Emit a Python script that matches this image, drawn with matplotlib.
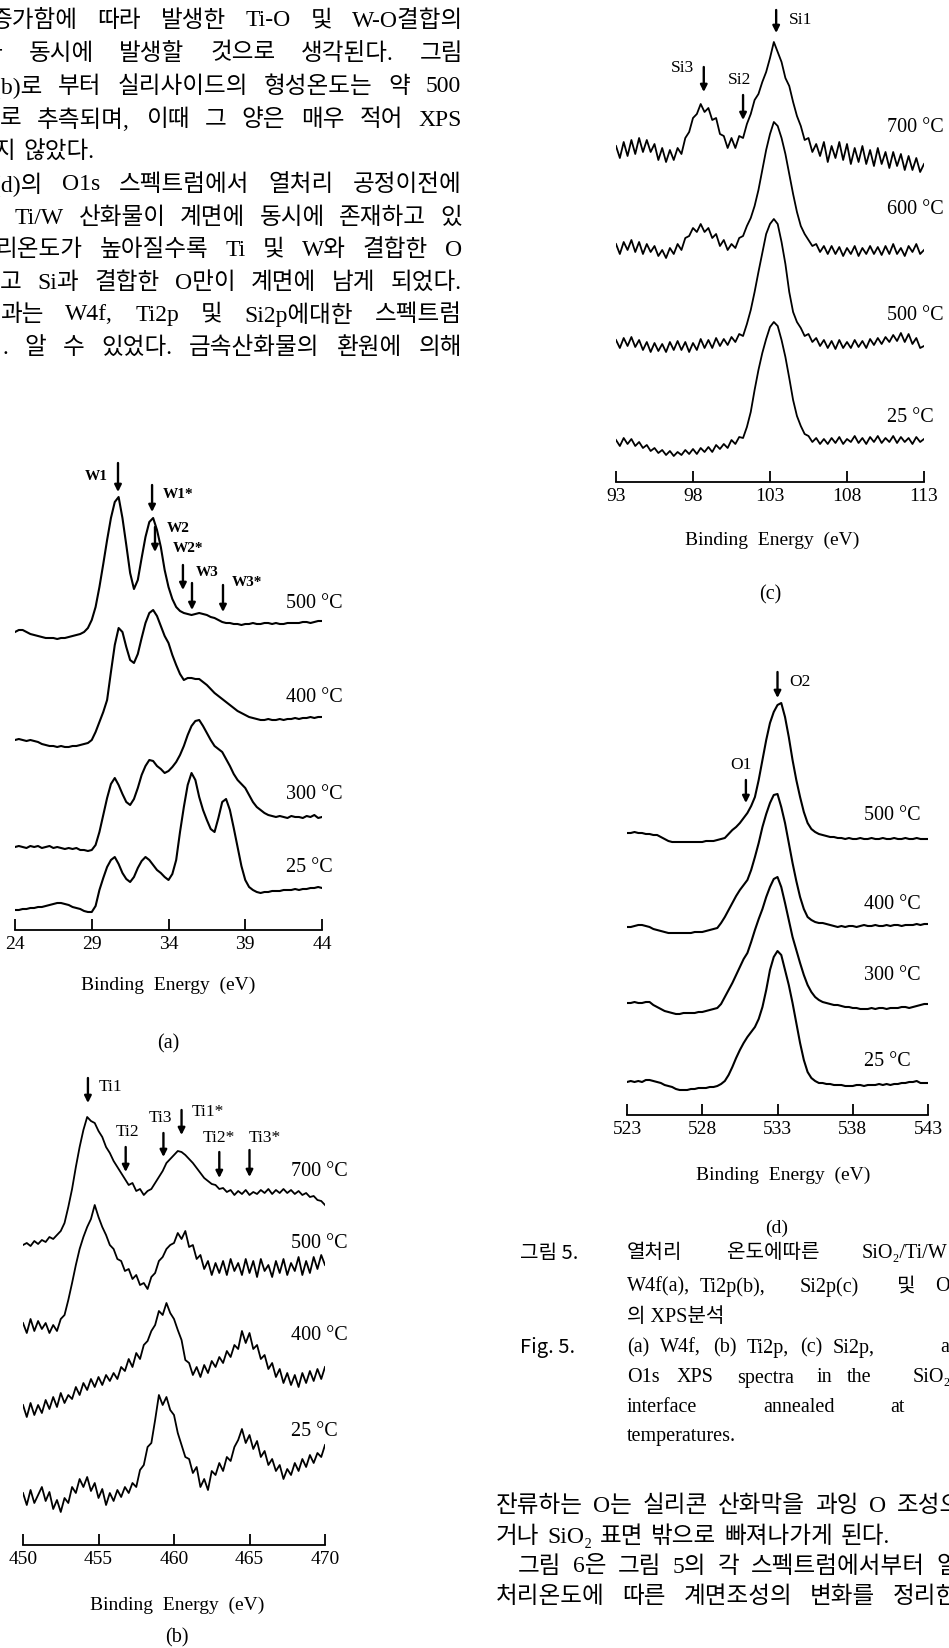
import numpy as np
import matplotlib
matplotlib.use('Agg')
import matplotlib.pyplot as plt

W, H = 949, 1648
plt.rcParams['font.family'] = ['Liberation Serif', 'Noto Sans CJK KR', 'DejaVu Sans']
SANS = ['Noto Sans CJK KR', 'DejaVu Sans']

# ---------------- data (heights in px above each panel's axis line) ----------------
# (a) W4f
a_energy = np.linspace(24, 44, 81)
a_25 = [20, 20, 21, 21, 22, 22, 23, 23, 24, 25, 26, 27, 27, 26, 25, 23, 22, 21, 19, 18,
        18, 24, 40, 52, 63, 70, 73, 66, 57, 51, 48, 53, 62, 69, 73, 70, 65, 60, 57, 53,
        50, 56, 70, 98, 123, 145, 157, 150, 133, 120, 110, 101, 98, 112, 128, 131, 120, 102, 83, 64,
        50, 43, 40, 38, 37, 38, 38, 39, 39, 39, 40, 40, 40, 41, 40, 41, 41, 42, 42, 43, 42]
a_300 = [83, 84, 83, 82, 84, 83, 84, 82, 83, 84, 82, 83, 82, 81, 82, 81, 82, 80, 80, 79,
         80, 85, 98, 115, 132, 146, 152, 145, 136, 128, 125, 131, 142, 155, 164, 170, 169, 164, 161, 157,
         159, 163, 168, 175, 184, 195, 204, 209, 210, 204, 197, 190, 184, 181, 178, 171, 164, 156, 150, 146,
         142, 135, 128, 123, 120, 117, 115, 114, 113, 114, 113, 112, 114, 113, 113, 112, 114, 113, 115, 112, 113]
a_400 = [190, 191, 190, 189, 190, 189, 188, 186, 185, 184, 184, 183, 184, 183, 183, 184, 184, 185, 186, 187,
         190, 198, 208, 218, 230, 258, 285, 302, 298, 283, 270, 267, 276, 292, 307, 317, 320, 314, 304, 294,
         287, 275, 265, 256, 250, 252, 252, 251, 251, 248, 245, 241, 237, 234, 231, 228, 225, 222, 219, 217,
         215, 213, 212, 211, 210, 210, 211, 210, 210, 211, 210, 211, 211, 212, 211, 212, 212, 213, 212, 213, 213]
a_500 = [298, 300, 300, 298, 296, 295, 294, 293, 292, 292, 292, 291, 292, 292, 293, 294, 295, 296, 298, 302,
         310, 323, 343, 366, 390, 412, 428, 433, 412, 385, 357, 341, 350, 372, 393, 408, 412, 400, 383, 360,
         343, 331, 323, 319, 317, 316, 315, 316, 317, 316, 315, 313, 312, 310, 308, 307, 307, 306, 306, 305,
         306, 306, 307, 306, 306, 307, 307, 306, 307, 306, 306, 307, 307, 307, 307, 308, 308, 307, 308, 309, 309]

# (b) Ti2p
b_energy = np.linspace(450, 470, 81)
b_25 = [52, 40, 55, 42, 50, 58, 44, 53, 36, 45, 33, 47, 42, 58, 52, 66, 58, 68, 54, 62,
        47, 56, 40, 52, 44, 55, 48, 58, 52, 62, 58, 75, 80, 98, 102, 125, 150, 140, 148, 135,
        130, 112, 100, 88, 86, 72, 78, 58, 66, 55, 74, 70, 82, 74, 88, 84, 98, 105, 116, 102,
        110, 96, 104, 88, 94, 80, 86, 74, 80, 66, 76, 70, 82, 74, 86, 78, 90, 82, 92, 88, 100]
b_400 = [140, 128, 142, 130, 140, 132, 145, 136, 148, 138, 152, 142, 150, 146, 158, 150, 162, 155, 166, 158,
         168, 160, 170, 164, 172, 166, 178, 174, 186, 178, 192, 186, 200, 204, 214, 220, 234, 230, 242, 232,
         226, 215, 205, 185, 182, 170, 178, 168, 180, 172, 184, 178, 188, 182, 194, 188, 200, 196, 214, 202,
         212, 196, 200, 186, 190, 176, 182, 168, 176, 162, 172, 160, 170, 158, 172, 162, 174, 164, 176, 166, 178]
b_500 = [222, 212, 226, 214, 224, 216, 222, 212, 220, 214, 226, 230, 245, 262, 280, 296, 308, 318, 326, 340,
         328, 318, 310, 300, 296, 286, 284, 274, 276, 266, 270, 260, 262, 256, 268, 272, 284, 288, 296, 300,
         302, 312, 306, 314, 298, 300, 286, 290, 276, 284, 270, 282, 272, 284, 270, 286, 274, 282, 270, 286,
         272, 284, 268, 286, 274, 280, 268, 284, 272, 286, 270, 282, 274, 288, 270, 284, 272, 288, 276, 290, 280]
b_700 = [300, 302, 299, 304, 301, 305, 303, 308, 306, 310, 314, 322, 338, 356, 378, 398, 415, 428, 424, 422,
         414, 408, 398, 392, 384, 378, 372, 366, 360, 362, 354, 356, 350, 354, 356, 362, 368, 374, 382, 386,
         390, 394, 393, 390, 386, 382, 377, 372, 367, 364, 361, 360, 356, 357, 353, 355, 350, 354, 351, 355,
         350, 353, 351, 355, 352, 356, 351, 355, 352, 356, 352, 355, 351, 354, 350, 352, 348, 349, 345, 344, 340]

# (c) Si2p
c_energy = np.linspace(93, 113, 81)
c_25 = [42, 36, 44, 38, 43, 36, 40, 34, 37, 31, 34, 29, 32, 27, 31, 26, 30, 27, 32, 28,
        33, 28, 34, 30, 35, 30, 37, 33, 38, 34, 42, 38, 45, 44, 55, 70, 92, 112, 129, 143,
        155, 160, 156, 142, 125, 104, 82, 66, 56, 48, 46, 40, 44, 38, 43, 38, 44, 39, 45, 38,
        43, 40, 46, 39, 44, 38, 45, 40, 46, 39, 44, 40, 46, 39, 45, 40, 44, 38, 45, 40, 43]
c_500 = [142, 134, 144, 136, 145, 135, 142, 132, 140, 130, 139, 131, 138, 130, 140, 132, 141, 132, 140, 130,
         139, 132, 143, 134, 142, 134, 144, 136, 143, 137, 145, 140, 148, 146, 158, 172, 190, 210, 229, 248,
         258, 263, 258, 240, 218, 190, 170, 160, 154, 146, 148, 140, 144, 136, 142, 134, 141, 133, 142, 134,
         140, 134, 142, 135, 141, 134, 143, 137, 144, 138, 145, 140, 147, 141, 149, 140, 148, 138, 144, 134, 136]
c_600 = [238, 228, 240, 232, 242, 230, 240, 228, 238, 230, 236, 226, 232, 224, 234, 228, 238, 232, 244, 246,
         254, 250, 258, 250, 254, 244, 248, 236, 242, 232, 238, 234, 244, 246, 256, 264, 276, 292, 312, 332,
         348, 360, 356, 344, 328, 308, 288, 270, 256, 248, 242, 236, 238, 230, 236, 228, 236, 228, 235, 226,
         234, 228, 236, 226, 234, 228, 236, 228, 235, 227, 236, 228, 238, 228, 234, 226, 236, 230, 238, 228, 232]
c_700 = [336, 324, 340, 326, 342, 328, 344, 330, 342, 330, 338, 322, 334, 320, 332, 322, 334, 328, 344, 350,
         364, 368, 378, 370, 374, 362, 364, 348, 346, 334, 344, 334, 346, 344, 358, 368, 382, 388, 400, 410,
         424, 440, 430, 420, 404, 396, 380, 366, 356, 342, 344, 330, 338, 326, 340, 320, 336, 324, 340, 322,
         338, 318, 334, 320, 336, 318, 332, 316, 334, 318, 330, 314, 330, 316, 328, 312, 326, 312, 324, 310, 318]

# (d) O1s
d_energy = np.linspace(523, 543, 81)
d_25 = [33, 34, 33, 34, 33, 35, 35, 34, 33, 32, 30, 29, 28, 26, 25, 25, 25, 26, 26, 27,
        27, 27, 28, 28, 29, 31, 34, 40, 48, 57, 65, 72, 78, 83, 88, 96, 108, 125, 145, 158,
        164, 160, 145, 130, 112, 92, 72, 55, 43, 37, 34, 32, 32, 31, 31, 30, 30, 30, 29, 29,
        29, 30, 30, 29, 30, 30, 30, 31, 30, 31, 30, 31, 31, 32, 32, 33, 33, 34, 32, 32, 32]
d_300 = [112, 112, 113, 112, 112, 113, 113, 110, 108, 106, 104, 103, 102, 101, 101, 102, 102, 102, 102, 103,
         103, 104, 105, 106, 107, 111, 118, 125, 132, 140, 148, 156, 162, 173, 185, 196, 206, 218, 228, 236,
         238, 228, 212, 195, 178, 165, 152, 140, 130, 123, 118, 115, 113, 112, 111, 110, 110, 109, 108, 108,
         107, 107, 106, 106, 106, 107, 106, 107, 107, 106, 107, 107, 107, 108, 108, 107, 108, 109, 110, 111, 111]
d_400 = [188, 188, 189, 190, 190, 189, 188, 186, 185, 184, 183, 182, 182, 182, 182, 182, 182, 182, 183, 183,
         183, 184, 185, 186, 187, 192, 198, 205, 212, 219, 225, 230, 235, 245, 258, 272, 288, 301, 312, 320,
         321, 308, 292, 272, 252, 234, 218, 206, 198, 195, 193, 192, 192, 191, 190, 189, 188, 189, 188, 189,
         189, 188, 189, 190, 189, 189, 190, 189, 189, 190, 189, 190, 190, 189, 190, 190, 190, 191, 190, 191, 191]
d_500 = [282, 282, 283, 282, 282, 281, 281, 280, 280, 278, 276, 274, 273, 273, 273, 273, 273, 273, 273, 273,
         273, 274, 274, 274, 275, 276, 277, 281, 285, 288, 292, 297, 302, 309, 318, 335, 355, 375, 392, 403,
         410, 412, 398, 378, 355, 335, 318, 303, 292, 286, 283, 281, 280, 279, 278, 278, 277, 277, 276, 277,
         276, 276, 277, 276, 276, 277, 276, 276, 277, 276, 276, 277, 276, 276, 277, 276, 276, 277, 276, 276, 276]

# peak markers: (label, arrow energy, arrow top, arrow tip, text energy, text height, text align)
a_marks = [('W1', 30.71, 467, 438, 29.3, 453, 'center'),
           ('W1*', 32.93, 445, 418, 33.6, 435, 'left'),
           ('W2', 33.12, 403, 378, 33.9, 402, 'left'),
           ('W2*', 34.94, 365, 340, 34.3, 381, 'left'),
           ('W3', 35.53, 347, 320, 35.75, 358, 'left'),
           ('W3*', 37.55, 345, 318, 38.15, 347, 'left')]
b_marks = [('Ti1', 454.3, 467, 442, 455.0, 458, 'left'),
           ('Ti2', 456.8, 398, 373, 456.9, 413, 'center'),
           ('Ti3', 459.3, 412, 388, 459.1, 427, 'center'),
           ('Ti1*', 460.5, 435, 410, 461.2, 433, 'left'),
           ('Ti2*', 463.0, 393, 367, 463.0, 407, 'center'),
           ('Ti3*', 465.0, 395, 368, 466.0, 407, 'center')]
c_marks = [('Si1', 103.4, 472, 449, 104.2, 462, 'left'),
           ('Si3', 98.7, 415, 390, 97.35, 414, 'center'),
           ('Si2', 101.25, 387, 362, 101.05, 402, 'center')]
d_marks = [('O2', 533.0, 443, 417, 533.8, 433, 'left'),
           ('O1', 530.9, 335, 312, 530.55, 350, 'center')]

temps_a = ['500 °C', '400 °C', '300 °C', '25 °C']
temps_b = ['700 °C', '500 °C', '400 °C', '25 °C']
temps_c = ['700 °C', '600 °C', '500 °C', '25 °C']
temps_d = ['500 °C', '400 °C', '300 °C', '25 °C']

fig = plt.figure(figsize=(W / 100, H / 100), dpi=100)


def fx(x):
    return x / W


def fy(y):
    return 1 - y / H


def panel(x0, x1, base, top, lim, step):
    ax = fig.add_axes([fx(x0), fy(base), (x1 - x0) / W, (base - top) / H])
    ax.set_xlim(lim[0], lim[1])
    ax.set_ylim(0, base - top)
    for s in ['top', 'left', 'right']:
        ax.spines[s].set_visible(False)
    ax.spines['bottom'].set_linewidth(1.3)
    ax.set_yticks([])
    ax.set_xticks(np.arange(lim[0], lim[1] + 1, step))
    ax.tick_params(axis='x', direction='in', length=8, width=1.3, pad=4, labelsize=14)
    ax.patch.set_visible(False)
    return ax


def marks(ax, items, bold=False, size=12.5):
    for lab, xe, h0, h1, xt, ht, ha in items:
        ax.annotate('', xy=(xe, h1), xytext=(xe, h0), annotation_clip=False,
                    arrowprops=dict(arrowstyle='-|>', color='k', lw=1.7, mutation_scale=10,
                                    shrinkA=0, shrinkB=0))
        ax.text(xt, ht, lab, ha=ha, va='center', fontsize=size,
                fontweight='bold' if bold else 'normal', clip_on=False)


def ftext(x, y, s, size=14, ha='left', **kw):
    return fig.text(fx(x), fy(y), s, fontsize=size, ha=ha, va='center', **kw)


# ---------------- panel (a) ----------------
ax = panel(15, 322, 930, 455, (24, 44), 5)
for ys in [a_25, a_300, a_400, a_500]:
    ax.plot(a_energy, ys, color='k', lw=1.5)
marks(ax, a_marks, bold=True, size=11)
for t, y in zip(temps_a, [603, 697, 795, 867]):
    ftext(286, y, t, 14.5)
ftext(168, 985, 'Binding  Energy  (eV)', 14, ha='center')
ftext(168, 1044, '(a)', 14.5, ha='center')

# ---------------- panel (b) ----------------
ax = panel(23, 325, 1545, 1065, (450, 470), 5)
for ys in [b_25, b_400, b_500, b_700]:
    ax.plot(b_energy, ys, color='k', lw=1.3)
marks(ax, b_marks)
for t, y in zip(temps_b, [1172, 1243, 1336, 1432]):
    ftext(291, y, t, 14.5)
ftext(177, 1605, 'Binding  Energy  (eV)', 14, ha='center')
ftext(177, 1638, '(b)', 14.5, ha='center')

# ---------------- panel (c) ----------------
ax = panel(616, 924, 482, 0, (93, 113), 5)
for ys in [c_25, c_500, c_600, c_700]:
    ax.plot(c_energy, ys, color='k', lw=1.3)
marks(ax, c_marks)
for t, y in zip(temps_c, [127, 210, 315, 418]):
    ftext(887, y, t, 14.5)
ftext(772, 540, 'Binding  Energy  (eV)', 14, ha='center')
ftext(770, 595, '(c)', 14.5, ha='center')

# ---------------- panel (d) ----------------
ax = panel(627, 928, 1115, 655, (523, 543), 5)
for ys in [d_25, d_300, d_400, d_500]:
    ax.plot(d_energy, ys, color='k', lw=1.5)
marks(ax, d_marks)
for t, y in zip(temps_d, [815, 905, 975, 1062]):
    ftext(864, y, t, 14.5)
ftext(783, 1175, 'Binding  Energy  (eV)', 14, ha='center')
ftext(777, 1228, '(d)', 14, ha='center')

# ---------------- body text ----------------
renderer = fig.canvas.get_renderer()
BODY = 17


def justify(words, x0, y, x1=None, size=BODY):
    objs = [ftext(0, y, w, size) for w in words]
    widths = [o.get_window_extent(renderer).width for o in objs]
    if x1 is None or len(words) < 2:
        gap = size * 0.45
    else:
        gap = (x1 - x0 - sum(widths)) / (len(words) - 1)
    x = x0
    for o, w in zip(objs, widths):
        o.set_x(fx(x))
        x += w + gap


left_lines = [
    (['증가함에', '따라', '발생한', 'Ti-O', '및', 'W-O결합의'], -9, 463),
    (['가', '동시에', '발생할', '것으로', '생각된다.', '그림'], -19, 463),
    (['(b)로', '부터', '실리사이드의', '형성온도는', '약', '500'], -7, 461),
    (['로', '추측되며,', '이때', '그', '양은', '매우', '적어', 'XPS'], 0, 462),
    (['지', '않았다.'], -6, None),
    (['(d)의', 'O1s', '스펙트럼에서', '열처리', '공정이전에'], -7, 462),
    (['Ti/W', '산화물이', '계면에', '동시에', '존재하고', '있'], 15, 462),
    (['리온도가', '높아질수록', 'Ti', '및', 'W와', '결합한', 'O'], -4, 462),
    (['고', 'Si과', '결합한', 'O만이', '계면에', '남게', '되었다.'], 0, 462),
    (['과는', 'W4f,', 'Ti2p', '및', 'Si2p에대한', '스펙트럼'], 0, 462),
    (['.', '알', '수', '있었다.', '금속산화물의', '환원에', '의해'], 2, 462),
]
left_y = [21, 54, 87, 120, 152, 185, 218, 250, 283, 315, 348]
for (words, x0, x1), y in zip(left_lines, left_y):
    justify(words, x0, y, x1)

# caption
CAP = 14.5
ftext(520, 1254, '그림 5.', CAP, family=SANS)
for x, w in [(627, '열처리'), (727, '온도에따른'), (862, 'SiO₂/Ti/W')]:
    ftext(x, 1254, w, CAP)
for x, w in [(627, 'W4f(a),'), (700, 'Ti2p(b),'), (800, 'Si2p(c)'), (897, '및'), (935, 'O1s(d)')]:
    ftext(x, 1287, w, CAP)
ftext(627, 1317, '의 XPS분석', CAP)
ftext(520, 1348, 'Fig. 5.', CAP, family=SANS)
for x, w in [(627, '(a)'), (660, 'W4f,'), (713, '(b)'), (747, 'Ti2p,'), (800, '(c)'),
             (833, 'Si2p,'), (940, 'and')]:
    ftext(x, 1348, w, CAP)
for x, w in [(627, 'O1s'), (677, 'XPS'), (737, 'spectra'), (817, 'in'), (847, 'the'), (913, 'SiO₂/Ti/W')]:
    ftext(x, 1378, w, CAP)
for x, w in [(627, 'interface'), (763, 'annealed'), (890, 'at'), (960, 'various')]:
    ftext(x, 1408, w, CAP)
ftext(627, 1436, 'temperatures.', CAP)

# lower right paragraph
justify(['잔류하는', 'O는', '실리콘', '산화막을', '과잉', 'O', '조성으'], 496, 1506, 962)
justify(['거나', 'SiO₂', '표면', '밖으로', '빠져나가게', '된다.'], 496, 1537)
justify(['그림', '6은', '그림', '5의', '각', '스펙트럼에서부터', '열'], 518, 1567, 958)
justify(['처리온도에', '따른', '계면조성의', '변화를', '정리한'], 496, 1597, 958)

fig.savefig('out.png', dpi=100)
